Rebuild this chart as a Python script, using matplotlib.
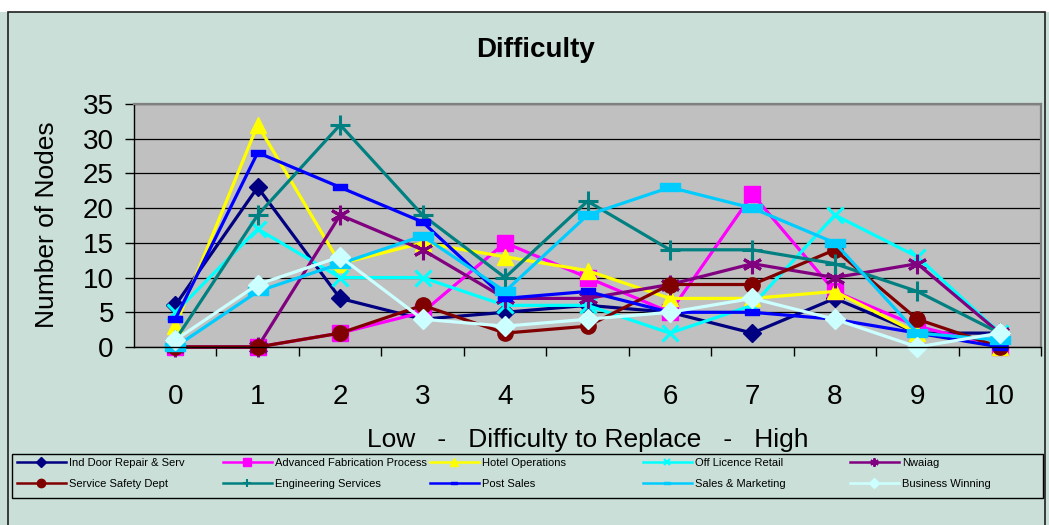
import matplotlib
matplotlib.use("Agg")
import matplotlib.pyplot as plt
from matplotlib.lines import Line2D
from matplotlib.patches import Rectangle
from matplotlib.path import Path
import numpy as np

plt.rcParams['font.family'] = ['Liberation Sans', 'DejaVu Sans']

categories = [0, 1, 2, 3, 4, 5, 6, 7, 8, 9, 10]

ind_door = [6, 23, 7, 4, 5, 6, 5, 2, 7, 2, 2]
adv_fab = [0, 0, 2, 5, 15, 10, 5, 22, 8, 3, 0]
hotel_ops = [3, 32, 12, 15, 13, 11, 7, 7, 8, 2, 0]
off_licence = [5, 17, 10, 10, 6, 6, 2, 6, 19, 13, 2]
nwaiag = [0, 0, 19, 14, 7, 7, 9, 12, 10, 12, 2]
service_safety = [0, 0, 2, 6, 2, 3, 9, 9, 14, 4, 0]
engineering = [1, 19, 32, 19, 10, 21, 14, 14, 12, 8, 2]
post_sales = [4, 28, 23, 18, 7, 8, 5, 5, 4, 2, 0]
sales_marketing = [0, 8, 12, 16, 8, 19, 23, 20, 15, 2, 1]
business_winning = [1, 9, 13, 4, 3, 4, 5, 7, 4, 0, 2]

series_names = [
    "Ind Door Repair & Serv", "Advanced Fabrication Process", "Hotel Operations",
    "Off Licence Retail", "Nwaiag", "Service Safety Dept", "Engineering Services",
    "Post Sales", "Sales & Marketing", "Business Winning",
]
series_values = [ind_door, adv_fab, hotel_ops, off_licence, nwaiag,
                 service_safety, engineering, post_sales, sales_marketing,
                 business_winning]

# flat bar marker used for the "dash" style points
dash = Path([(-1, -0.4), (1, -0.4), (1, 0.4), (-1, 0.4), (-1, -0.4)],
            [Path.MOVETO, Path.LINETO, Path.LINETO, Path.LINETO, Path.CLOSEPOLY])

styles = [
    dict(color="#000080", marker="D", ms=9, mew=1),
    dict(color="#FF00FF", marker="s", ms=11, mew=1),
    dict(color="#FFFF00", marker="^", ms=12, mew=1),
    dict(color="#00FFFF", marker="x", ms=11, mew=2.2),
    dict(color="#800080", marker=(6, 2, 0), ms=14, mew=2.2),
    dict(color="#800000", marker="o", ms=11, mew=1),
    dict(color="#008080", marker="+", ms=14, mew=2.2),
    dict(color="#0000FF", marker=dash, ms=10, mew=1),
    dict(color="#00CCFF", marker=dash, ms=15, mew=1),
    dict(color="#CCFFFF", marker="D", ms=10, mew=1),
]

W, H = 1049, 525
fig = plt.figure(figsize=(W / 100, H / 100), dpi=100)
bg = "#C9DFD8"
fig.patch.set_facecolor(bg)

# white strip above the chart frame and the frame itself
fig.patches.append(Rectangle((0, 1 - 12 / H), 1, 12 / H, transform=fig.transFigure,
                             facecolor="white", edgecolor="none", zorder=0))
fig.patches.append(Rectangle((8 / W, -0.05), (1045 - 8) / W, 1.05 - 12 / H,
                             transform=fig.transFigure, facecolor="none",
                             edgecolor="#202020", lw=1.2, zorder=1))

left, right, top, bottom = 134, 1041, 104, 347
ax = fig.add_axes([left / W, 1 - bottom / H, (right - left) / W, (bottom - top) / H])
ax.set_facecolor("#C0C0C0")

for name, vals, st in zip(series_names, series_values, styles):
    ax.plot(categories, vals, color=st["color"], lw=2.3, marker=st["marker"],
            ms=st["ms"], mew=st["mew"], mfc=st["color"], mec=st["color"],
            clip_on=False, label=name)

ax.set_xlim(-0.5, 10.5)
ax.set_ylim(0, 35)
ax.set_yticks(np.arange(0, 36, 5))
ax.yaxis.grid(True, color="black", lw=0.9)
ax.set_axisbelow(True)

ax.set_xticks(categories)
ax.set_xticks(np.arange(0.5, 10.6, 1), minor=True)
ax.tick_params(axis="x", which="major", length=0, pad=27, labelsize=20)
ax.tick_params(axis="x", which="minor", length=6.5, width=1, direction="out")
ax.tick_params(axis="y", which="major", length=6.5, width=1, direction="out",
               pad=8, labelsize=20)

for s in ("top", "right"):
    ax.spines[s].set_color("#808080")
    ax.spines[s].set_linewidth(1.6)
for s in ("left", "bottom"):
    ax.spines[s].set_color("black")
    ax.spines[s].set_linewidth(1)

fig.text(535 / W, 1 - 50 / H, "Difficulty", ha="center", va="center",
         fontsize=20, fontweight="bold")
fig.text(47 / W, 1 - 225 / H, "Number of Nodes", ha="center", va="center",
         rotation=90, fontsize=19)
fig.text(588 / W, 1 - 440 / H, "Low   -   Difficulty to Replace   -   High",
         ha="center", va="center", fontsize=19)

# legend: box plus five columns of two entries
fig.patches.append(Rectangle((12 / W, 1 - 498 / H), (1043 - 12) / W, (498 - 454) / H,
                             transform=fig.transFigure, facecolor="none",
                             edgecolor="black", lw=1, zorder=2))

legend_ms = [5, 6, 6, 5, 6, 6, 6, 4, 5, 5]
handles = []
for name, st, lms in zip(series_names, styles, legend_ms):
    handles.append(Line2D([], [], color=st["color"], lw=1.8, marker=st["marker"],
                          ms=lms, mew=1.5 if st["mew"] > 1 else 1,
                          mfc=st["color"], mec=st["color"], label=name))

col_x = [17, 223, 430, 643, 850]
for c in range(5):
    hs = [handles[c], handles[c + 5]]
    leg = fig.legend(handles=hs, loc="upper left",
                     bbox_to_anchor=(col_x[c] / W, 1 - 458 / H),
                     bbox_transform=fig.transFigure, frameon=False, ncol=1,
                     fontsize=8, handlelength=4.4, handletextpad=0.25,
                     borderpad=0, borderaxespad=0, labelspacing=1.0)

fig.savefig("out.png", dpi=100, facecolor=fig.get_facecolor())
